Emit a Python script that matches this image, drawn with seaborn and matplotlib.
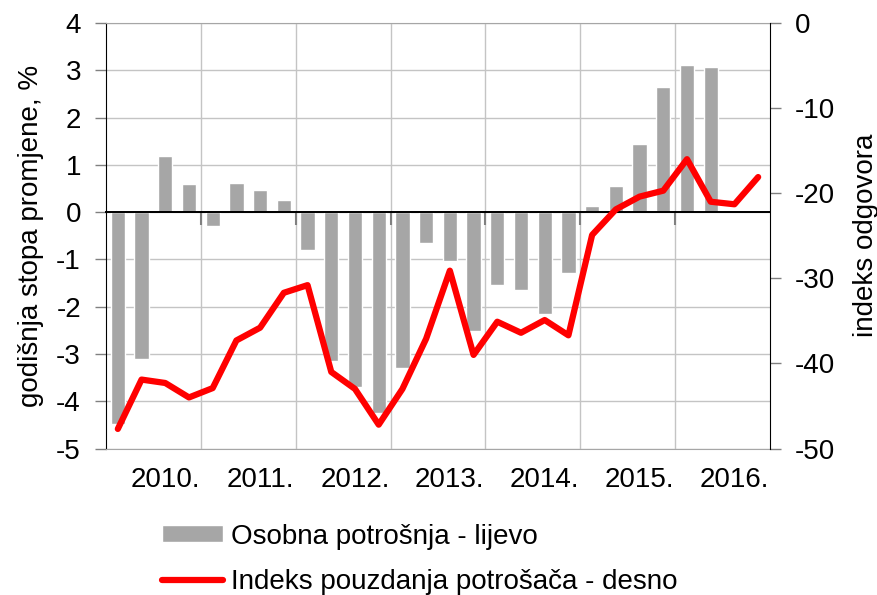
import numpy as np
import pandas as pd
import matplotlib
matplotlib.use('Agg')
import matplotlib.pyplot as plt
import seaborn as sns
from matplotlib.patches import Patch
from matplotlib.lines import Line2D

godine = ['2010.', '2011.', '2012.', '2013.', '2014.', '2015.', '2016.']

# osobna potrošnja, godišnja stopa promjene (%), kvartalno od 2010. Q1
potrosnja = [-4.49, -3.10, 1.18, 0.59, -0.30, 0.61, 0.46, 0.25,
             -0.80, -3.15, -3.69, -4.25, -3.29, -0.66, -1.03, -2.51,
             -1.54, -1.64, -2.15, -1.28, 0.12, 0.55, 1.44, 2.65,
             3.12, 3.06, np.nan, np.nan]

# indeks pouzdanja potrošača
pouzdanje = [-47.7, -41.9, -42.3, -44.0, -42.9, -37.3, -35.8, -31.7,
             -30.8, -41.0, -43.0, -47.2, -43.0, -37.1, -29.1, -39.0,
             -35.1, -36.4, -34.9, -36.7, -24.9, -21.9, -20.4, -19.7,
             -16.0, -21.0, -21.3, -18.1]

sns.set_style('white')
plt.rcParams['font.family'] = ['Liberation Sans', 'DejaVu Sans']
plt.rcParams['font.size'] = 20
plt.rcParams['text.color'] = 'black'
plt.rcParams['axes.labelcolor'] = 'black'
plt.rcParams['axes.unicode_minus'] = False

n = len(pouzdanje)
df = pd.DataFrame({'kvartal': np.arange(n), 'potrosnja': potrosnja, 'pouzdanje': pouzdanje})

fig, ax = plt.subplots(figsize=(8.78, 5.95), dpi=100)
fig.subplots_adjust(left=0.1207, right=0.877, top=0.9613, bottom=0.2462)

sns.barplot(data=df.dropna(), x='kvartal', y='potrosnja', native_scale=True,
            width=0.6, color='#a6a6a6', saturation=1, errorbar=None, ax=ax, zorder=2)

granice = np.arange(3.5, n - 1, 4)
ax.set_axisbelow(True)
ax.set_ylim(-5, 4)
ax.set_yticks(range(-5, 5))
ax.set_xticks(granice)
ax.set_xticklabels([])
ax.set_xticks(np.arange(2, n, 4), minor=True)
ax.set_xticklabels(godine, minor=True)
ax.tick_params(axis='x', which='both', length=0, labelcolor='black')
ax.tick_params(axis='x', which='minor', pad=13)
ax.tick_params(axis='y', left=True, length=8, width=1, color='#808080',
               pad=10, labelcolor='black')
ax.grid(True, which='major', color='#c4c4c4', lw=1)
ax.set_xlabel('')
ax.set_ylabel('godišnja stopa promjene, %', labelpad=9)
for s in ['top', 'bottom']:
    ax.spines[s].set_color('#a6a6a6')
ax.spines['left'].set_color('black')
ax.spines['right'].set_visible(False)

# os kategorija na nuli
os0 = ax.secondary_xaxis(5 / 9)
os0.set_xticks(granice)
os0.set_xticklabels([])
os0.tick_params(axis='x', direction='out', length=9, width=1.5, color='#808080',
                top=False, bottom=True, labeltop=False, labelbottom=False)
for s in ['top', 'bottom']:
    os0.spines[s].set_visible(True)
    os0.spines[s].set_color('black')
    os0.spines[s].set_linewidth(1.3)
os0.set_zorder(3)

ax2 = ax.twinx()
sns.lineplot(data=df, x='kvartal', y='pouzdanje', color='red', lw=4.5,
             solid_capstyle='round', solid_joinstyle='round', ax=ax2)
ax2.set_ylim(-50, 0)
ax2.set_yticks(range(-50, 1, 10))
ax2.tick_params(axis='y', right=True, length=8, width=1, color='#808080',
                pad=10, labelcolor='black')
ax2.set_ylabel('indeks odgovora', labelpad=13)
ax2.grid(False)
for s in ['top', 'bottom', 'left']:
    ax2.spines[s].set_visible(False)
ax2.spines['right'].set_color('black')
ax.set_xlim(-0.5, n - 0.5)

h_bar = Patch(facecolor='#a6a6a6', label='Osobna potrošnja - lijevo')
h_line = Line2D([], [], color='red', lw=4.5, solid_capstyle='round',
                label='Indeks pouzdanja potrošača - desno')
fig.legend(handles=[h_bar, h_line], loc='upper left', bbox_to_anchor=(0.1845, 0.12),
           frameon=False, handlelength=2.2, handleheight=0.55, handletextpad=0.3,
           labelspacing=0.7, borderpad=0, borderaxespad=0)

fig.savefig('out.png', dpi=100)
plt.close(fig)
